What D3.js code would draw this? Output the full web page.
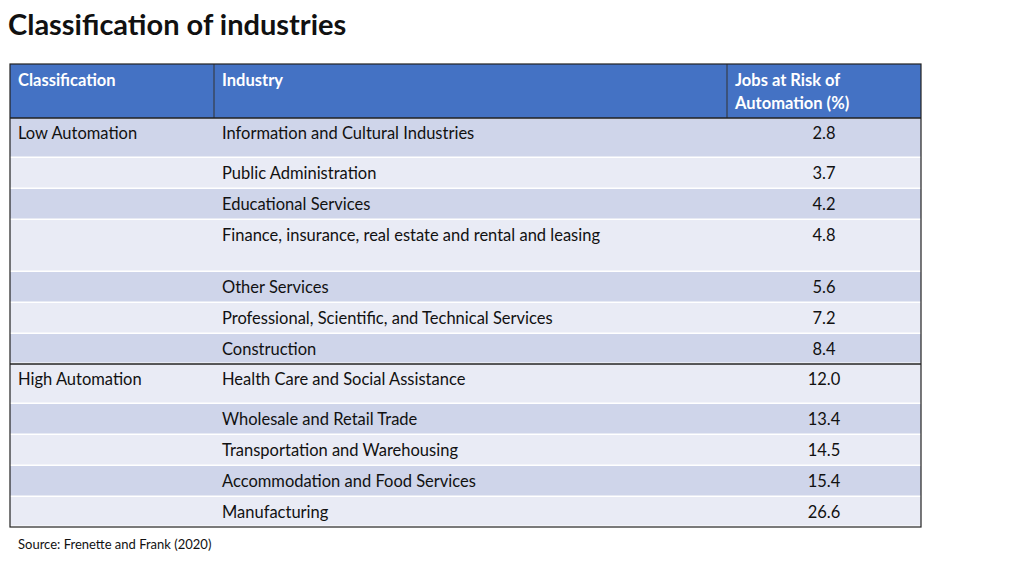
<!DOCTYPE html>
<html><head><meta charset="utf-8">
<script src="https://cdn.jsdelivr.net/npm/d3@7"></script>
<style>body{margin:0;background:#fff}</style></head>
<body><svg id="c" width="1024" height="576"></svg>
<script>
const headers = ["Classification","Industry","Jobs at Risk of|Automation (%)"];
const classifications = ["Low Automation","","","","","","","High Automation","","","",""];
const industries = ["Information and Cultural Industries","Public Administration","Educational Services","Finance, insurance, real estate and rental and leasing","Other Services","Professional, Scientific, and Technical Services","Construction","Health Care and Social Assistance","Wholesale and Retail Trade","Transportation and Warehousing","Accommodation and Food Services","Manufacturing"];
const values = [2.8,3.7,4.2,4.8,5.6,7.2,8.4,12.0,13.4,14.5,15.4,26.6];
const rowHeights = [40,31,31,52,31,31,30,40,31,31,31,30];

(function(){
const svg = d3.select("#c");
const font = "Lato, 'Open Sans', sans-serif";
svg.append("text").attr("x",8).attr("y",35).attr("font-family",font).attr("font-weight",700)
  .attr("font-size",29).attr("fill","#111").text("Classification of industries");

const tLeft=10, tRight=921, tTop=64, headH=54;
const colX=[10,214,727,921];
const ys=[]; let acc=tTop+headH;
rowHeights.forEach(h=>{ys.push(acc);acc+=h;});
const tBottom=acc;

svg.append("rect").attr("x",tLeft).attr("y",tTop).attr("width",tRight-tLeft).attr("height",headH).attr("fill","#4472c4");
headers.forEach((h,i)=>{
  const t=svg.append("text").attr("x",colX[i]+8).attr("y",tTop+22).attr("font-family",font)
   .attr("font-weight",700).attr("font-size",16.5).attr("fill","#fff");
  h.split("|").forEach((s,j)=>t.append("tspan").attr("x",colX[i]+8).attr("dy",j?23:0).text(s));
});
[214,727].forEach(x=>svg.append("line").attr("x1",x).attr("x2",x).attr("y1",tTop).attr("y2",tTop+headH).attr("stroke","#333").attr("stroke-width",1));

const g=svg.selectAll("g.row").data(values).join("g").attr("class","row");
g.append("rect").attr("x",tLeft).attr("y",(d,i)=>ys[i]).attr("width",tRight-tLeft)
 .attr("height",(d,i)=>rowHeights[i]-1.5).attr("fill",(d,i)=>i%2?"#e9ebf5":"#cfd5ea");
g.append("text").attr("x",18).attr("y",(d,i)=>ys[i]+21).attr("font-family",font).attr("font-size",16.5).attr("fill","#111").text((d,i)=>classifications[i]);
g.append("text").attr("x",222).attr("y",(d,i)=>ys[i]+21).attr("font-family",font).attr("font-size",16.5).attr("fill","#111").text((d,i)=>industries[i]);
g.append("text").attr("x",824).attr("text-anchor","middle").attr("y",(d,i)=>ys[i]+21).attr("font-family",font).attr("font-size",16.5).attr("fill","#111").text(d=>d.toFixed(1));

svg.append("line").attr("x1",tLeft).attr("x2",tRight).attr("y1",tTop+headH).attr("y2",tTop+headH).attr("stroke","#222").attr("stroke-width",1.5);
svg.append("line").attr("x1",tLeft).attr("x2",tRight).attr("y1",ys[7]).attr("y2",ys[7]).attr("stroke","#222").attr("stroke-width",1.5);
svg.append("rect").attr("x",tLeft).attr("y",tTop).attr("width",tRight-tLeft).attr("height",tBottom-tTop).attr("fill","none").attr("stroke","#222").attr("stroke-width",1.2);

svg.append("text").attr("x",18).attr("y",549).attr("font-family",font).attr("font-size",13).attr("fill","#111").text("Source: Frenette and Frank (2020)");
})();
</script></body></html>
